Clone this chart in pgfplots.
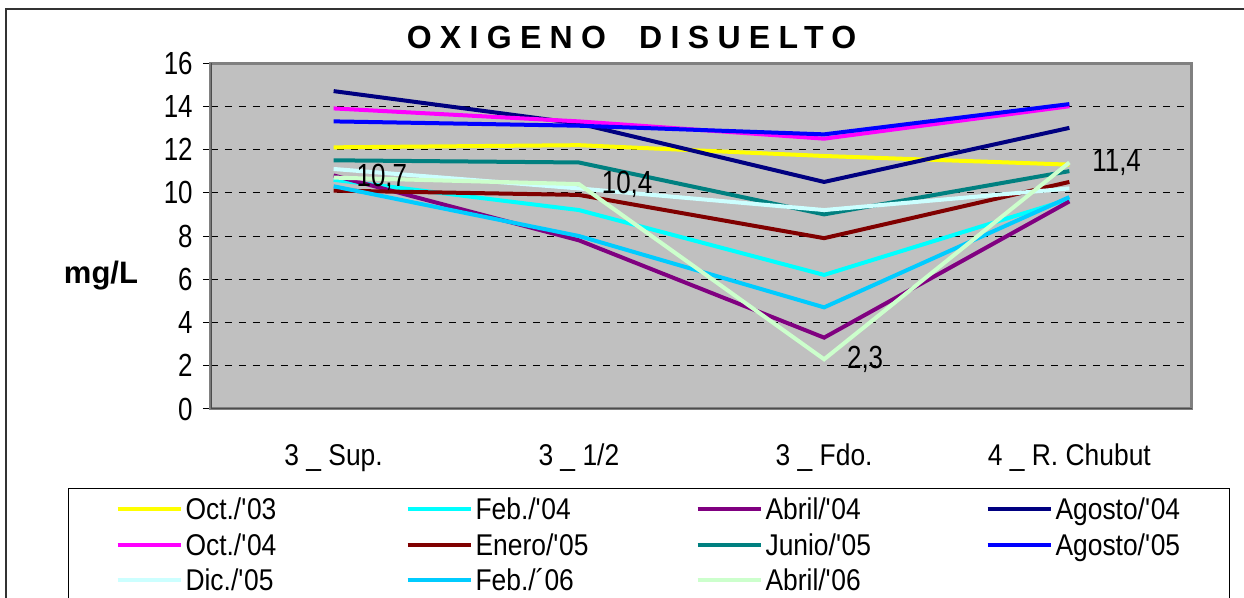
\documentclass[border=0pt]{standalone}
\usepackage{fontspec}
\setmainfont{Liberation Sans}[FakeStretch=0.88]
\newfontfamily\numfont{Liberation Sans}[FakeStretch=0.81]
\newfontfamily\plainsans{Liberation Sans}
\newfontfamily\titlefont{Liberation Sans}[LetterSpace=26]
\usepackage{pgfplots}
\pgfplotsset{compat=1.18}
\usepackage{pgfplotstable}

\definecolor{plotbg}{HTML}{C0C0C0}
\definecolor{frame}{HTML}{808080}
\definecolor{coct03}{HTML}{FFFF00}
\definecolor{cfeb04}{HTML}{00FFFF}
\definecolor{cabr04}{HTML}{800080}
\definecolor{cago04}{HTML}{000080}
\definecolor{coct04}{HTML}{FF00FF}
\definecolor{cene05}{HTML}{800000}
\definecolor{cjun05}{HTML}{008080}
\definecolor{cago05}{HTML}{0000FF}
\definecolor{cdic05}{HTML}{CCFFFF}
\definecolor{cfeb06}{HTML}{00CCFF}
\definecolor{cabr06}{HTML}{CCFFCC}

% mg/L por punto de muestreo
\pgfplotstableread{
cat oct03 feb04 abr04 ago04 oct04 ene05 jun05 ago05 dic05 feb06 abr06
1   12.1  10.6  10.8  14.7  13.9  10.1  11.5  13.3  11.1  10.3  10.7
2   12.2   9.2   7.8  13.2  13.3   9.9  11.4  13.1  10.2   8.0  10.4
3   11.7   6.2   3.3  10.5  12.5   7.9   9.0  12.7   9.2   4.7   2.3
4   11.3   9.7   9.6  13.0  14.0  10.5  11.0  14.1  10.2   9.8  11.4
}\oxigeno

\newcommand{\q}{\textquotesingle}
\newcommand{\entry}[1]{\addlegendentry{\makebox[62pt][l]{#1}}}

\begin{document}
\begin{tikzpicture}
\useasboundingbox (0,0) rectangle (622pt,-299pt);
\fill[white] (0,0) rectangle (622pt,-299pt);
\draw[black!80, line width=1.2pt] (3pt,-4.5pt) rectangle (640pt,-320pt);
\begin{axis}[
    at={(105.5pt,-204.5pt)}, anchor=south west,
    scale only axis,
    width=490.5pt, height=173pt,
    xmin=0.5, xmax=4.5,
    ymin=0, ymax=16,
    xtick={1,2,3,4},
    xticklabels={3 \_ Sup., 3 \_ 1/2, 3 \_ Fdo., 4 \_ R. Chubut},
    minor xtick={0.5,1.5,2.5,3.5,4.5},
    xtick style={draw=none},
    minor x tick style={black, line width=0.5pt},
    ytick={0,2,...,16},
    y tick style={black, line width=0.5pt},
    tick align=outside,
    major tick length=4pt,
    minor tick length=4.5pt,
    xtick pos=bottom, ytick pos=left,
    /pgf/number format/assume math mode=true,
    yticklabel style={font=\numfont\fontsize{16}{16}\selectfont, inner sep=0pt, anchor=east, xshift=-5pt},
    xticklabel style={font=\fontsize{15}{15}\selectfont, inner sep=0pt, anchor=base, yshift=-24pt},
    ymajorgrids,
    major grid style={black, line width=0.5pt, dash pattern=on 3.5pt off 3.5pt},
    axis background/.style={fill=plotbg},
    axis line style={draw=frame, line width=1.5pt},
    title={\fontsize{16}{16}\titlefont\bfseries OXIGENO\hspace{8pt} DISUELTO},
    title style={at={(axis description cs:0.4287,1.039)}, anchor=center, inner sep=0pt},
    ylabel={\fontsize{15.5}{15.5}\plainsans\bfseries mg/L},
    ylabel style={at={(axis description cs:-0.1121,0.3844)}, rotate=-90, anchor=center, inner sep=0pt},
    every axis plot/.append style={line width=2pt},
    legend image code/.code={\draw[#1] (0pt,0pt) -- (31.5pt,0pt);},
    legend columns=4,
    legend cell align=left,
    legend style={
        at={(axis description cs:-0.1458,-0.2283)}, anchor=north west,
        draw=black, line width=0.6pt, fill=white,
        inner xsep=23.5pt, inner ysep=2.6pt,
        row sep=2.07pt,
        font=\fontsize{15}{15}\selectfont,
        nodes={inner xsep=1.5pt, inner ysep=0pt, text height=13pt, text depth=2.6pt},
        /tikz/every even column/.append style={column sep=46.5pt},
    },
]
\addplot[coct03] table[x=cat, y=oct03] {\oxigeno};
\entry{Oct./\q 03}
\addplot[cfeb04] table[x=cat, y=feb04] {\oxigeno};
\entry{Feb./\q 04}
\addplot[cabr04] table[x=cat, y=abr04] {\oxigeno};
\entry{Abril/\q 04}
\addplot[cago04] table[x=cat, y=ago04] {\oxigeno};
\entry{Agosto/\q 04}
\addplot[coct04] table[x=cat, y=oct04] {\oxigeno};
\entry{Oct./\q 04}
\addplot[cene05] table[x=cat, y=ene05] {\oxigeno};
\entry{Enero/\q 05}
\addplot[cjun05] table[x=cat, y=jun05] {\oxigeno};
\entry{Junio/\q 05}
\addplot[cago05] table[x=cat, y=ago05] {\oxigeno};
\entry{Agosto/\q 05}
\addplot[cdic05] table[x=cat, y=dic05] {\oxigeno};
\entry{Dic./\q 05}
\addplot[cfeb06] table[x=cat, y=feb06] {\oxigeno};
\entry{Feb./´06}
\addplot[cabr06,
    nodes near coords={\pgfmathprintnumber[fixed, precision=1, use comma]{\pgfplotspointmeta}},
    every node near coord/.append style={anchor=west, xshift=10.5pt, inner sep=0pt, black,
        font=\numfont\fontsize{16}{16}\selectfont},
] table[x=cat, y=abr06] {\oxigeno};
\entry{Abril/\q 06}
\draw[frame, line width=1.5pt] (rel axis cs:0,0) rectangle (rel axis cs:1,1);
\draw[black!70, line width=1pt] (rel axis cs:0,1) -- (rel axis cs:0,0) -- (rel axis cs:1,0);
\end{axis}
\end{tikzpicture}
\end{document}
